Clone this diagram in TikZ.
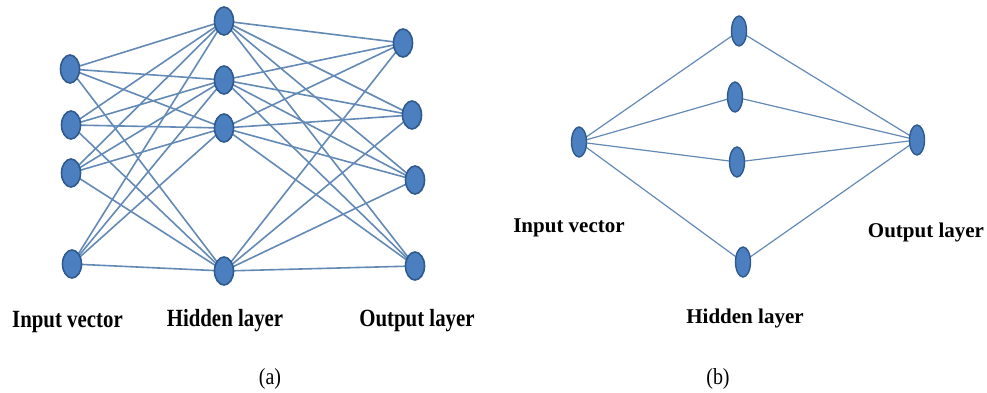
\documentclass[tikz,border=0pt]{standalone}
\usepackage{fontspec}
\usepackage{graphicx}
\setmainfont{Liberation Serif}
\usetikzlibrary{shapes.geometric,backgrounds}
\definecolor{nodefill}{HTML}{4C7FC0}
\definecolor{nodeline}{HTML}{2F5A8E}
\definecolor{edgecol}{HTML}{6389B6}
\tikzset{
  neuronA/.style={ellipse, fill=nodefill, draw=nodeline, line width=1.6pt, minimum width=19pt, minimum height=28pt, inner sep=0pt},
  neuronB/.style={ellipse, fill=nodefill, draw=nodeline, line width=1.4pt, minimum width=15pt, minimum height=30pt, inner sep=0pt},
  edgeA/.style={draw=edgecol, line width=1.6pt},
  edgeB/.style={draw=edgecol, line width=1.2pt},
  lblA/.style={anchor=base, inner sep=0pt, font=\fontsize{21.5}{22}\selectfont\bfseries},
  lblB/.style={anchor=base, inner sep=0pt, font=\fontsize{21}{22}\selectfont\bfseries},
  captxt/.style={anchor=base, inner sep=0pt, font=\fontsize{21}{22}\selectfont}
}
\begin{document}
\begin{tikzpicture}[x=1pt,y=-1pt]
\useasboundingbox (0,0) rectangle (987,393);
% ---------- (a) ----------
\node[neuronA] (i1) at (70,69) {};
\node[neuronA] (i2) at (71,125) {};
\node[neuronA] (i3) at (71,173) {};
\node[neuronA] (i4) at (72,264) {};
\node[neuronA] (h1) at (224,21) {};
\node[neuronA] (h2) at (224,80) {};
\node[neuronA] (h3) at (224,128) {};
\node[neuronA] (h4) at (224,271) {};
\node[neuronA] (o1) at (403,43) {};
\node[neuronA] (o2) at (412,115) {};
\node[neuronA] (o3) at (415,180) {};
\node[neuronA] (o4) at (415,266) {};
\begin{scope}[on background layer]
\foreach \a in {i1,i2,i3,i4}{\foreach \b in {h1,h2,h3,h4}{\path[edgeA] (\a.center) -- (\b.center);}}
\foreach \a in {h1,h2,h3,h4}{\foreach \b in {o1,o2,o3,o4}{\path[edgeA] (\a.center) -- (\b.center);}}
\end{scope}
\node[lblA] (la1) at (67.5,327) {\scalebox{0.97}[1.15]{Input vector}};
\node[lblA] (la2) at (225,326) {\scalebox{0.97}[1.15]{Hidden layer}};
\node[lblA] (la3) at (417,326) {\scalebox{0.97}[1.15]{Output layer}};
\node[captxt] (capa) at (270,384) {\scalebox{0.95}[1.1]{(a)}};
% ---------- (b) ----------
\node[neuronB] (bi) at (579,142) {};
\node[neuronB] (bh1) at (739,31) {};
\node[neuronB] (bh2) at (735,97) {};
\node[neuronB] (bh3) at (737,162) {};
\node[neuronB] (bh4) at (743,262) {};
\node[neuronB] (bo) at (917,140) {};
\begin{scope}[on background layer]
\foreach \b in {bh1,bh2,bh3,bh4}{\path[edgeB] (bi.center) -- (\b.center); \path[edgeB] (\b.center) -- (bo.center);}
\end{scope}
\node[lblB] (lb1) at (569,232) {Input vector};
\node[lblB] (lb2) at (926,237) {Output layer};
\node[lblB] (lb3) at (745,323) {Hidden layer};
\node[captxt] (capb) at (718,384) {\scalebox{0.95}[1.1]{(b)}};
\end{tikzpicture}
\end{document}
